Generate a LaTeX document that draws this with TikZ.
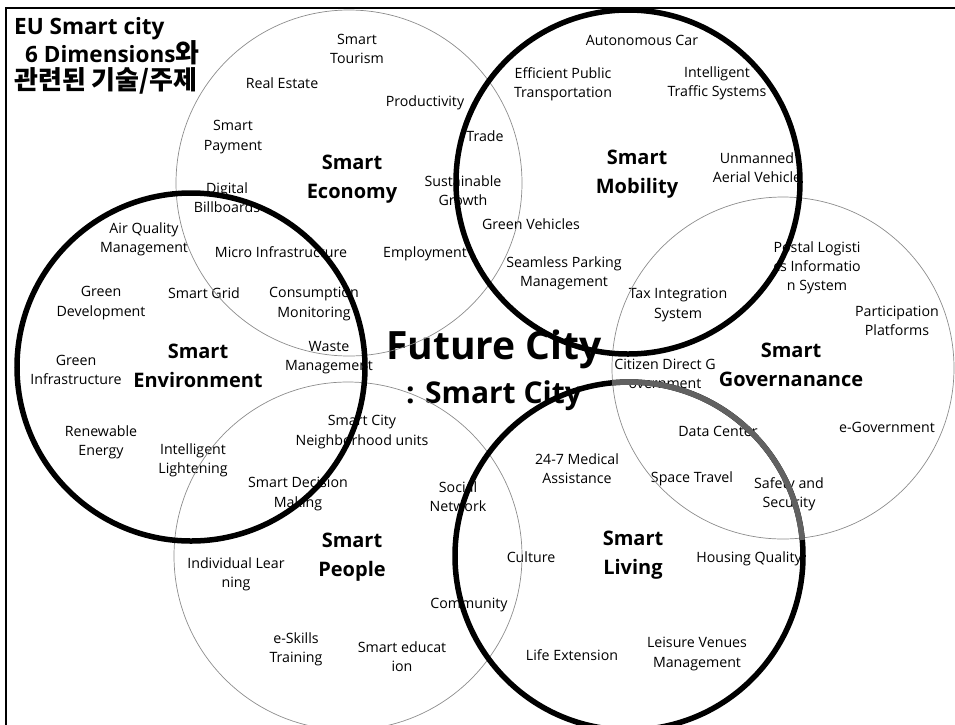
\documentclass[tikz,border=0pt]{standalone}
\usepackage{fontspec}
\setmainfont{Open Sans}
\newfontfamily\kr{Noto Sans CJK KR}
\newcommand{\krbig}[1]{{\kr\fontsize{26}{27}\selectfont #1}}
\begin{document}
\begin{tikzpicture}[x=1pt,y=-1pt,
  lbl/.style={font=\fontsize{14.2}{19.2}\selectfont, align=center, inner sep=0pt, text=black},
  ttl/.style={font=\fontsize{20}{29}\selectfont\bfseries, align=center, inner sep=0pt},
  hd/.style={font=\fontsize{22.5}{27}\selectfont\bfseries, anchor=base west, inner sep=0pt},
  thin/.style={draw=black!45, line width=0.7pt},
  thick/.style={draw=black, line width=5.5pt},
  frame/.style={draw=black, line width=2pt}]
\useasboundingbox (0,0) rectangle (955,724);
\begin{scope}
\clip (0,0) rectangle (955,724);
\draw[frame] (6,8) rectangle (970,740);

% title
\node[hd] (t1) at (14,34) {EU Smart city};
\node[hd] (t2) at (25,62) {6 Dimensions\krbig{와}};
\node[hd] (t3) at (14,89) {\krbig{관련된 기술/주제}};

% Economy
\node[lbl] (e1) at (357,49) {Smart\\Tourism};
\node[lbl] (e2) at (282,83) {Real Estate};
\node[lbl] (e3) at (425,103) {Productivity};
\node[lbl] (e4) at (233,137) {Smart\\Payment};
\node[lbl] (e5) at (485,136) {Trade};
\node[ttl] (E) at (352,179) {Smart\\Economy};
\node[lbl] (e6) at (463,191) {Sustainable\\Growth};
\node[lbl] (e7) at (227,198) {Digital\\Billboards};
\node[lbl] (e8) at (281,252) {Micro Infrastructure};
\node[lbl] (e9) at (425,254) {Employment};

% Mobility
\node[lbl] (m1) at (642,40) {Autonomous Car};
\node[lbl] (m2) at (563,84) {Efficient Public\\Transportation};
\node[lbl] (m3) at (717,83) {Intelligent\\Traffic Systems};
\node[ttl] (M) at (637,174) {Smart\\Mobility};
\node[lbl] (m4) at (757,168) {Unmanned\\Aerial Vehicle};
\node[lbl] (m5) at (531,224) {Green Vehicles};
\node[lbl] (m6) at (564,273) {Seamless Parking\\Management};

% Environment
\node[lbl] (v1) at (144,239) {Air Quality\\Management};
\node[lbl] (v2) at (101,303) {Green\\Development};
\node[lbl] (v3) at (204,293) {Smart Grid};
\node[lbl] (v4) at (314,304) {Consumption\\Monitoring};
\node[lbl] (v5) at (329,358) {Waste\\Management};
\node[lbl] (v6) at (76,370) {Green\\Infrastructure};
\node[ttl] (V) at (198,366) {Smart\\Environment};
\node[lbl] (v7) at (101,442) {Renewable\\Energy};
\node[lbl] (v8) at (193,460) {Intelligent\\Lightening};
\node[lbl] (v9) at (298,494) {Smart Decision\\Making};
\node[lbl] (v10) at (362,432) {Smart City\\Neighborhood units};

% People
\node[lbl] (p1) at (458,497) {Social\\Network};
\node[ttl] (P) at (352,557) {Smart\\People};
\node[lbl] (p2) at (236,574) {Individual Lear\\ning};
\node[lbl] (p3) at (469,605) {Community};
\node[lbl] (p4) at (296,649) {e-Skills\\Training};
\node[lbl] (p5) at (402,657) {Smart educat\\ion};

% Living
\node[lbl] (l1) at (577,469) {24-7 Medical\\Assistance};
\node[lbl] (l2) at (692,479) {Space Travel};
\node[lbl] (l3) at (718,431) {Data Center};
\node[lbl] (l4) at (789,494) {Safety and\\Security};
\node[lbl] (l5) at (531,557) {Culture};
\node[ttl] (L) at (633,555) {Smart\\Living};
\node[lbl] (l6) at (749,559) {Housing Quality};
\node[lbl] (l7) at (572,655) {Life Extension};
\node[lbl] (l8) at (697,654) {Leisure Venues\\Management};

% Governance
\node[lbl] (g1) at (817,268) {Postal Logisti\\cs Informatio\\n System};
\node[lbl] (g2) at (678,305) {Tax Integration\\System};
\node[lbl] (g3) at (897,321) {Participation\\Platforms};
\node[ttl] (G) at (791,365) {Smart\\Governanance};
\node[lbl] (g4) at (665,374) {Citizen Direct G\\overnment};
\node[lbl] (g5) at (887,427) {e-Government};

% centre
\node[font=\fontsize{39}{42}\selectfont\bfseries, inner sep=0pt] (fc) at (494,349) {Future City};
\node[font=\fontsize{30}{33}\selectfont\bfseries, inner sep=0pt] (sc) at (494,396) {: Smart City};

% circles
\coordinate (cE) at (349,183);
\coordinate (cM) at (628,182);
\coordinate (cV) at (191,367);
\coordinate (cG) at (783,368);
\coordinate (cP) at (348,556);
\coordinate (cL) at (629,556);
\draw[thin] (cE) circle[radius=173];
\draw[thin] (cG) circle[radius=171];
\draw[thin] (cP) circle[radius=174];
\draw[thick] (cM) circle[radius=172];
\draw[thick] (cV) circle[radius=174];
\draw[thick] (cL) circle[radius=174];
\draw[draw=black!62, line width=5.5pt] (cL) ++(-95.6:174) arc[start angle=-95.6, end angle=-5.3, radius=174];
\end{scope}
\end{tikzpicture}
\end{document}
